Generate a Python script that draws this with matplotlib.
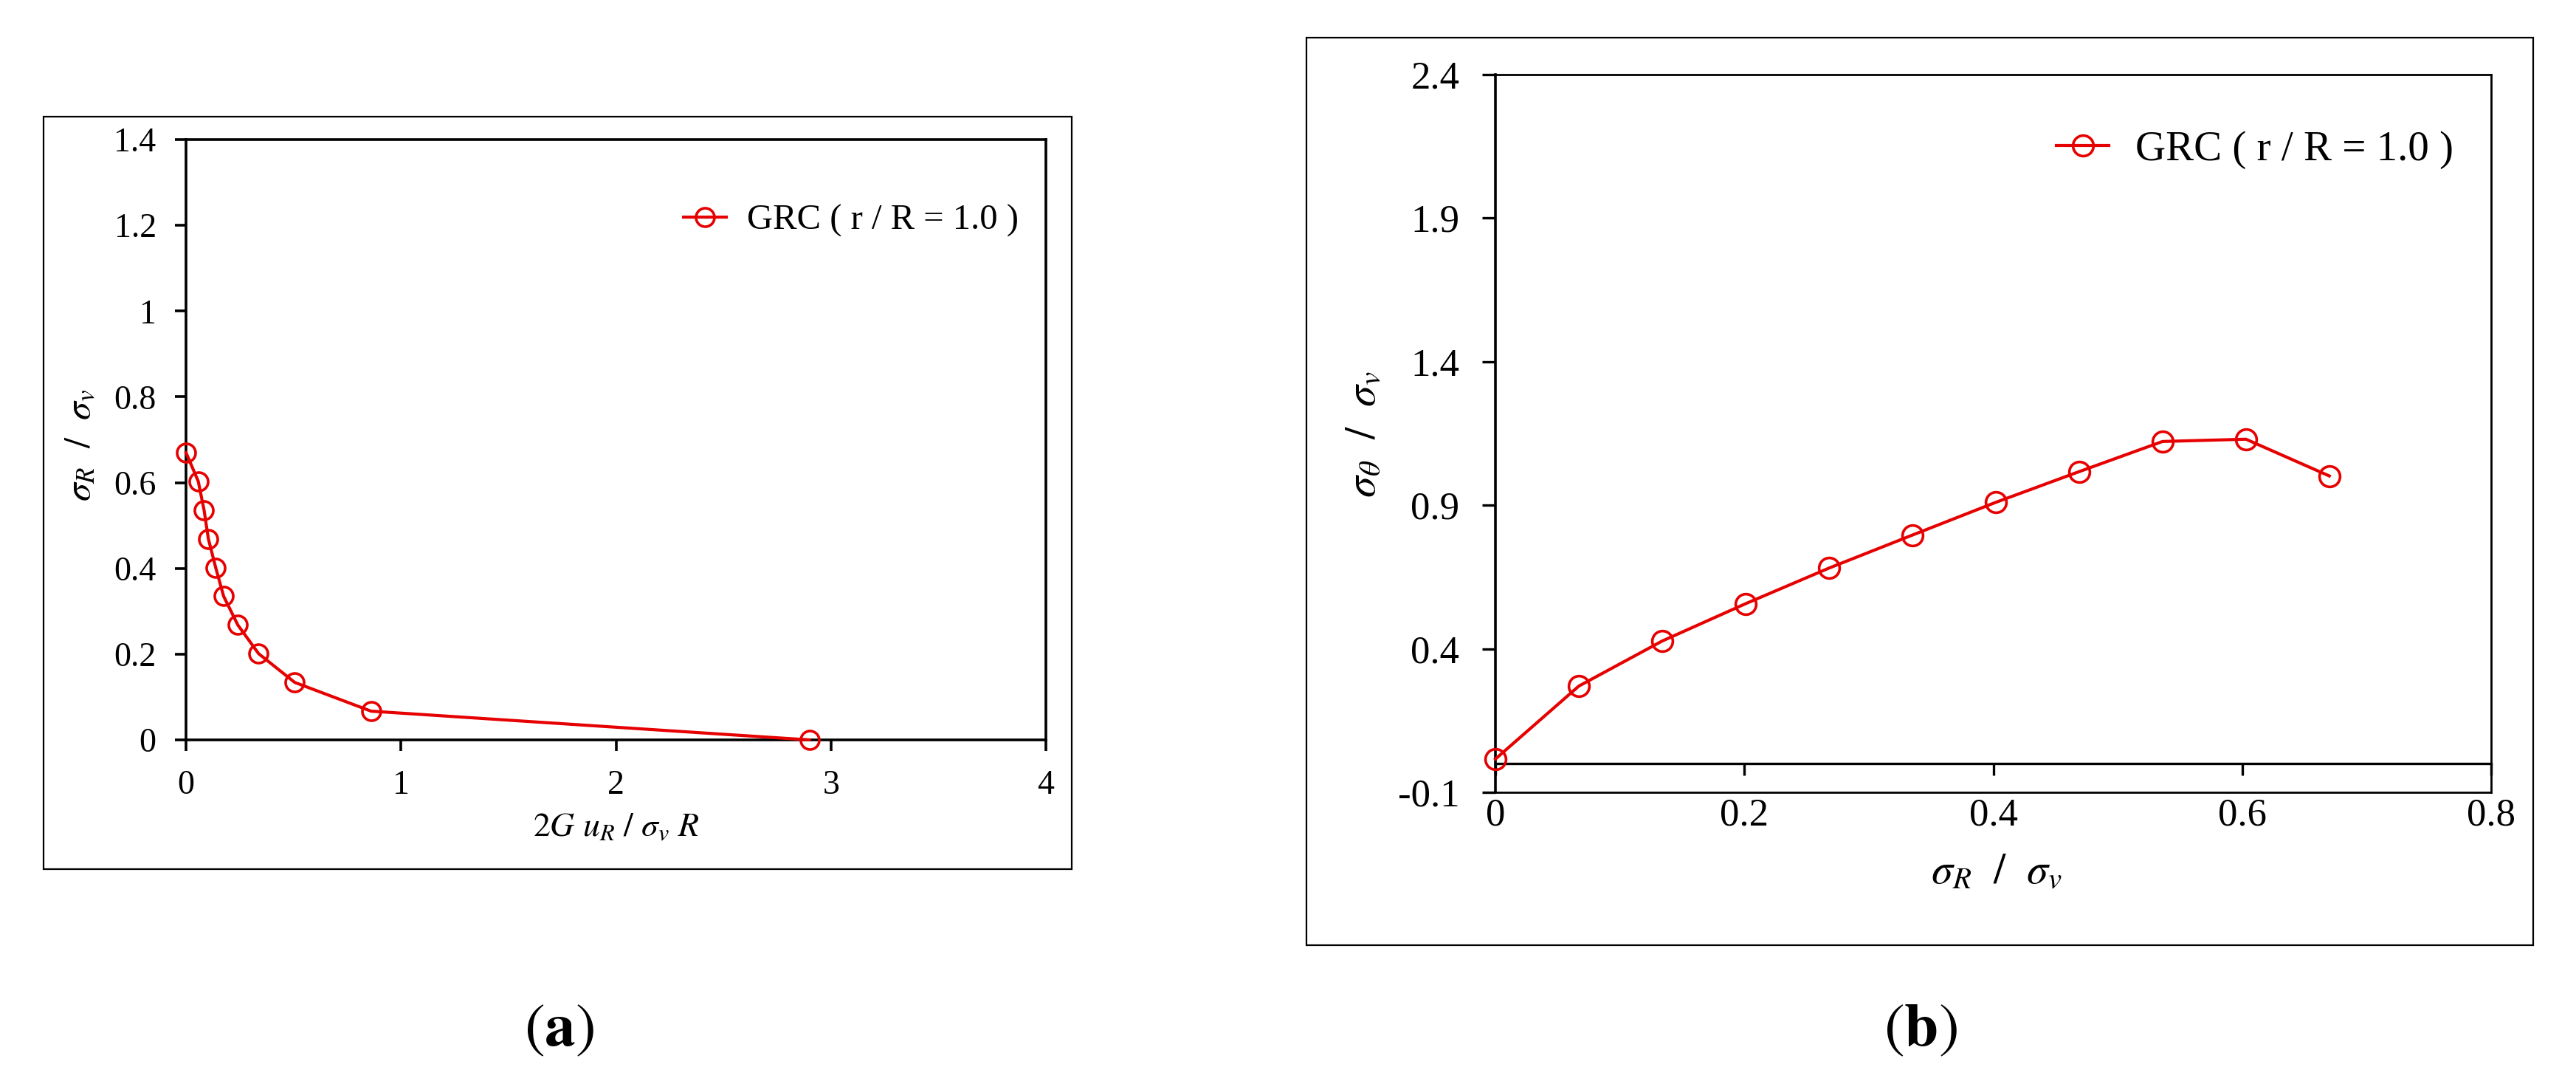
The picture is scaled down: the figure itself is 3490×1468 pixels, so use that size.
import matplotlib
matplotlib.use("Agg")
import matplotlib.pyplot as plt
from matplotlib.patches import Rectangle

plt.rcParams['font.family'] = ['Liberation Serif', 'DejaVu Serif']
plt.rcParams['mathtext.fontset'] = 'stix'

# (a) ground reaction curve: displacement vs support pressure
u_R = [0.0, 0.057, 0.084, 0.104, 0.138, 0.175, 0.241, 0.338, 0.506, 0.861, 2.90]
sigma_R_a = [0.670, 0.603, 0.536, 0.469, 0.402, 0.335, 0.268, 0.201, 0.134, 0.067, 0.0]
xticks_a = [0, 1, 2, 3, 4]
yticks_a = [0, 0.2, 0.4, 0.6, 0.8, 1.0, 1.2, 1.4]
yticklabels_a = ['0', '0.2', '0.4', '0.6', '0.8', '1', '1.2', '1.4']

# (b) tangential stress vs radial stress
sigma_R_b = [0.0, 0.067, 0.134, 0.201, 0.268, 0.335, 0.402, 0.469, 0.536, 0.603, 0.670]
sigma_t_b = [0.016, 0.270, 0.427, 0.557, 0.681, 0.796, 0.910, 1.017, 1.122, 1.130, 1.002]
xticks_b = [0, 0.2, 0.4, 0.6, 0.8]
xticklabels_b = ['0', '0.2', '0.4', '0.6', '0.8']
yticks_b = [-0.1, 0.4, 0.9, 1.4, 1.9, 2.4]

legend_label = 'GRC ( r / R = 1.0 )'
red = '#E60000'

W, H = 3490, 1468
fig = plt.figure(figsize=(W / 100, H / 100), dpi=100)

# ---- panel (a)
ax1 = fig.add_axes([252 / W, 1 - 1002 / H, 1165 / W, 813 / H])
ax1.plot(u_R, sigma_R_a, color=red, lw=3.0, marker='o', ms=18,
         mfc='none', mec=red, mew=2.6, label=legend_label, clip_on=False, zorder=5)
ax1.set_xlim(0, 4)
ax1.set_ylim(0, 1.4)
ax1.set_xticks(xticks_a)
ax1.set_xticklabels([str(t) for t in xticks_a])
ax1.set_yticks(yticks_a)
ax1.set_yticklabels(yticklabels_a)
for s in ax1.spines.values():
    s.set_linewidth(2.6)
ax1.tick_params(direction='out', length=11, width=2.6, labelsize=33, pad=18)
ax1.text(0.5, -0.161, r'$2G\ u_R\ /\ \sigma_v\ R$', transform=ax1.transAxes,
         ha='center', va='baseline', fontsize=33)
ax1.text(-0.122, 0.491, r'$\sigma_R\ \ /\ \ \sigma_v$', transform=ax1.transAxes,
         ha='center', va='center', rotation=90, fontsize=36)
ax1.legend(loc='center right', bbox_to_anchor=(0.968, 0.865), frameon=False,
           fontsize=35, handlelength=1.2, handletextpad=0.57,
           borderpad=0, borderaxespad=0)

# ---- panel (b)
ax2 = fig.add_axes([2026 / W, 1 - 1073 / H, 1349 / W, 972 / H])
ax2.plot(sigma_R_b, sigma_t_b, color=red, lw=3.0, marker='o', ms=20,
         mfc='none', mec=red, mew=2.6, label=legend_label, clip_on=False, zorder=5)
ax2.set_xlim(0, 0.8)
ax2.set_ylim(-0.1, 2.4)
ax2.set_xticks(xticks_b)
ax2.set_xticklabels(xticklabels_b)
ax2.set_yticks(yticks_b)
ax2.set_yticklabels([str(t) for t in yticks_b])
ax2.spines['bottom'].set_position(('data', 0))
ax2.spines['bottom'].set_linewidth(2.4)
ax2.spines['left'].set_linewidth(2.6)
ax2.spines['top'].set_linewidth(2.0)
ax2.spines['right'].set_linewidth(2.0)
ax2.axhline(-0.1, color='black', lw=2.0, clip_on=False)
ax2.tick_params(axis='x', direction='out', length=11.5, width=2.4, labelsize=38, pad=22)
ax2.tick_params(axis='y', direction='out', length=13, width=2.4, labelsize=38, pad=22)
ax2.text(0.503, -0.127, r'$\sigma_R\ \ /\ \ \sigma_v$', transform=ax2.transAxes,
         ha='center', va='baseline', fontsize=42)
ax2.text(-0.131, 0.499, r'$\sigma_\theta\ \ /\ \ \sigma_v$', transform=ax2.transAxes,
         ha='center', va='center', rotation=90, fontsize=42)
ax2.legend(loc='center right', bbox_to_anchor=(0.962, 0.895), frameon=False,
           fontsize=41, handlelength=1.24, handletextpad=0.63,
           borderpad=0, borderaxespad=0)

# outer frames round each panel
fig.add_artist(Rectangle((59 / W, 1 - 1177 / H), (1452 - 59) / W, (1177 - 158) / H,
                         transform=fig.transFigure, fill=False, lw=1.6, color='black'))
fig.add_artist(Rectangle((1770 / W, 1 - 1280 / H), (3432 - 1770) / W, (1280 - 51) / H,
                         transform=fig.transFigure, fill=False, lw=1.6, color='black'))

# panel letters
fig.text(758 / W, 1 - 1397 / H, r'$(\mathbf{a})$', ha='center', va='center', fontsize=60)
fig.text(2602 / W, 1 - 1397 / H, r'$(\mathbf{b})$', ha='center', va='center', fontsize=60)

fig.savefig('out.png', dpi=100)
